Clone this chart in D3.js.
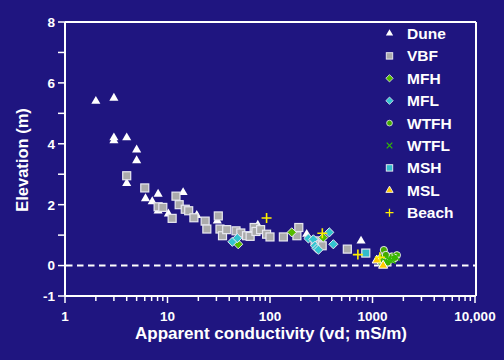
<!DOCTYPE html>
<html><head><meta charset="utf-8">
<script src="https://cdn.jsdelivr.net/npm/d3@7"></script>
<style>
html,body{margin:0;padding:0;background:#1f1580;}
svg{display:block;font-family:"Liberation Sans",Arial,sans-serif;font-weight:bold;}
</style></head>
<body><svg id="c" width="504" height="360"></svg>
<script>
// ---- data (conductivity mS/m, elevation m) ----
const seriesNames = ["Dune","VBF","MFH","MFL","WTFH","WTFL","MSH","MSL","Beach"];
const dune = [[2.0,5.4],[3.0,5.5],[3.0,4.2],[3.0,4.1],[4.0,4.2],[5.0,3.8],[5.0,3.45],[4.0,2.7],[6.1,2.2],[7.1,2.1],[8.1,2.35],[8.1,1.8],[10.2,1.7],[14.2,2.4],[19.3,1.65],[30.6,1.47],[76,1.33],[228,1.03],[773,0.81]];
const vbf = [[4.0,2.95],[6.0,2.55],[8.1,1.93],[9.0,1.91],[11.1,1.55],[12.1,2.28],[13.0,2.0],[14.9,1.85],[16.1,1.8],[18.1,1.57],[23.3,1.46],[24.2,1.2],[31.3,1.63],[32.5,1.2],[34.4,0.98],[37.8,1.18],[46.6,1.14],[51.9,1.07],[59,0.98],[64,0.96],[70,1.25],[73,1.12],[81,1.18],[92.6,1.03],[100,0.94],[135,0.94],[183,0.98],[191,1.25],[275,0.81],[308,0.70],[323,0.65],[568,0.54]];
const mfh = [[49,0.70],[163,1.09],[331,0.92]];
const mfl = [[42.9,0.78],[48,0.90],[237,0.89],[265,0.86],[275,0.65],[285,0.56],[297,0.52],[379,1.09],[415,0.70]];
const wtfh = [[1290,0.51],[1230,0.27],[1380,0.21],[1540,0.30],[1730,0.34],[1410,0.10],[1600,0.22],[1480,0.28],[1350,0.35],[1650,0.25],[1200,0.12]];
const wtfl = [[1450,0.20],[1320,0.15],[1700,0.28],[1550,0.18]];
const msh = [[860,0.41]];
const msl = [[1100,0.17],[1270,0.0]];
const beach = [[92.6,1.56],[324,1.06],[720,0.36],[1180,0.27]];
const xMajor = [1,10,100,1000,10000];
const xMajorLabels = ["1","10","100","1000","10,000"];
const yTicks = [-1,0,1,2,3,4,5,6,7,8];
const yLabeled = [-1,0,2,4,6,8];

const svg = d3.select("#c");
const W=504,H=360;
svg.append("rect").attr("width",W).attr("height",H).attr("fill","#1f1580");

const x = d3.scaleLog().domain([1,10000]).range([65,475]);
const y = d3.scaleLinear().domain([-1,8]).range([296,22]);

// frame top/right
svg.append("line").attr("x1",65).attr("x2",476).attr("y1",22).attr("y2",22).attr("stroke","#fff").attr("stroke-width",2);
svg.append("line").attr("x1",476).attr("x2",476).attr("y1",22).attr("y2",296).attr("stroke","#fff").attr("stroke-width",2);

// x axis
const minor=[];
for(let d=1; d<10000; d*=10) for(let k=2;k<=9;k++) minor.push(d*k);
const gx = svg.append("g").attr("transform","translate(0,296)");
gx.append("line").attr("x1",65).attr("x2",476).attr("stroke","#fff").attr("stroke-width",2);
gx.selectAll("line.mi").data(minor).join("line").attr("class","mi")
  .attr("x1",d=>x(d)).attr("x2",d=>x(d)).attr("y1",0).attr("y2",5).attr("stroke","#fff").attr("stroke-width",1.5);
gx.selectAll("line.ma").data(xMajor).join("line").attr("class","ma")
  .attr("x1",d=>x(d)).attr("x2",d=>x(d)).attr("y1",0).attr("y2",7).attr("stroke","#fff").attr("stroke-width",1.5);
gx.selectAll("text").data(xMajor).join("text")
  .attr("x",d=>x(d)).attr("y",25).attr("text-anchor","middle").attr("fill","#fff").attr("font-size",13.5)
  .text((d,i)=>xMajorLabels[i]);

// y axis
const gy = svg.append("g");
gy.append("line").attr("x1",65).attr("x2",65).attr("y1",22).attr("y2",296).attr("stroke","#fff").attr("stroke-width",2);
gy.selectAll("line.t").data(yTicks).join("line").attr("class","t")
  .attr("x1",58).attr("x2",65).attr("y1",d=>y(d)).attr("y2",d=>y(d)).attr("stroke","#fff").attr("stroke-width",1.5);
gy.selectAll("text").data(yLabeled).join("text")
  .attr("x",55).attr("y",d=>y(d)).attr("dy","0.36em").attr("text-anchor","end").attr("fill","#fff").attr("font-size",13.5)
  .text(d=>d);

// titles
svg.append("text").attr("x",271).attr("y",339).attr("text-anchor","middle").attr("fill","#fff").attr("font-size",17)
  .text("Apparent conductivity (vd; mS/m)");
svg.append("text").attr("transform","translate(28,160) rotate(-90)").attr("text-anchor","middle").attr("fill","#fff").attr("font-size",16.5)
  .text("Elevation (m)");

// zero dashed line
svg.append("line").attr("x1",66).attr("x2",475).attr("y1",y(0)).attr("y2",y(0))
  .attr("stroke","#fff").attr("stroke-width",2).attr("stroke-dasharray","6.5,4.5");

// marker painters
const tri = d3.symbol().type(d3.symbolTriangle).size(36)();
const dia = "M0,-4.6L4.6,0L0,4.6L-4.6,0Z";
const styles = {
  Dune:  g=>g.append("path").attr("d",tri).attr("fill","#fff"),
  VBF:   g=>g.append("rect").attr("x",-4).attr("y",-4).attr("width",8).attr("height",8).attr("fill","#ababab").attr("stroke","#e8e8f0").attr("stroke-width",1.2),
  MFH:   g=>g.append("path").attr("d",dia).attr("fill","#55bb00").attr("stroke","#e8e8f0").attr("stroke-width",1),
  MFL:   g=>g.append("path").attr("d",dia).attr("fill","#33c4d0").attr("stroke","#e8e8f0").attr("stroke-width",1),
  WTFH:  g=>g.append("circle").attr("r",3.6).attr("fill","#44aa00").attr("stroke","#e8e8f0").attr("stroke-width",1),
  WTFL:  g=>{g.append("path").attr("d","M-3.5,-3.5L3.5,3.5M-3.5,3.5L3.5,-3.5").attr("stroke","#33bb00").attr("stroke-width",1.5);},
  MSH:   g=>g.append("rect").attr("x",-4).attr("y",-4).attr("width",8).attr("height",8).attr("fill","#33bbcc").attr("stroke","#e8e8f0").attr("stroke-width",1.2),
  MSL:   g=>g.append("path").attr("d",tri).attr("fill","#ffcc00").attr("stroke","#fff").attr("stroke-width",1),
  Beach: g=>{g.append("path").attr("d","M-5,0L5,0M0,-5L0,5").attr("stroke","#ffee00").attr("stroke-width",1.6);}
};
const dataBy = {Dune:dune,VBF:vbf,MFH:mfh,MFL:mfl,WTFH:wtfh,WTFL:wtfl,MSH:msh,MSL:msl,Beach:beach};
const drawOrder = ["Dune","VBF","MFH","MFL","WTFH","WTFL","MSH","MSL","Beach"];
drawOrder.forEach(name=>{
  svg.append("g").selectAll("g").data(dataBy[name]).join("g")
    .attr("transform",d=>`translate(${x(d[0])},${y(d[1])})`)
    .each(function(){styles[name](d3.select(this));});
});

// legend
const leg = svg.append("g");
seriesNames.forEach((name,i)=>{
  const yy = 33.5 + i*22.4;
  const g = leg.append("g").attr("transform",`translate(389.5,${yy}) scale(0.8)`);
  styles[name](g);
  leg.append("text").attr("x",407).attr("y",yy).attr("dy","0.36em").attr("fill","#fff").attr("font-size",15.5).text(name);
});
</script></body></html>
